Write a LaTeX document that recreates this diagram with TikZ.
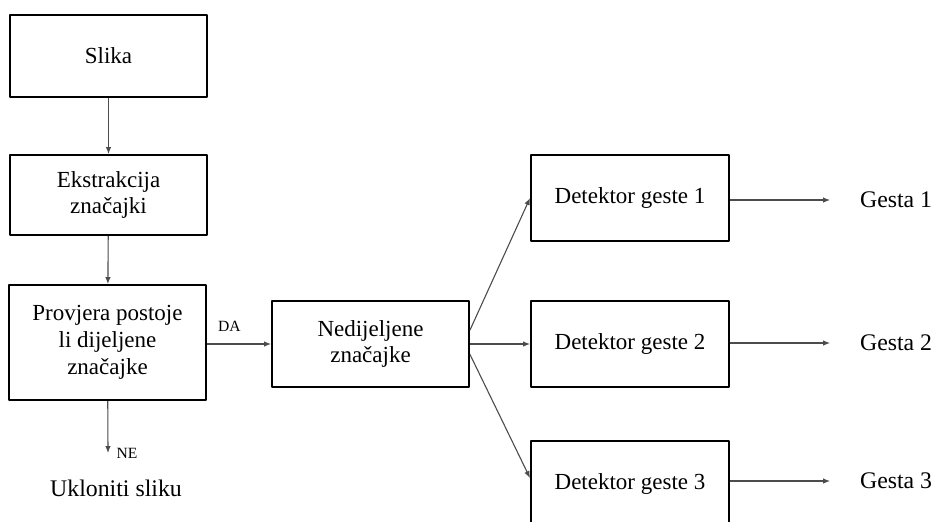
\documentclass[tikz,border=0pt]{standalone}
\usepackage{fontspec}
\setmainfont{Liberation Serif}
\usetikzlibrary{arrows.meta}
\begin{document}
\begin{tikzpicture}[x=0.5pt, y=-0.5pt, line join=round, >={Latex[length=3.5pt,width=2.8pt]},
	kutija/.style = {draw, line width=1pt, align=center, font=\fontsize{11.5}{13}\selectfont, minimum width=98.5pt, minimum height=42pt, inner sep=2pt},
	veza/.style = {->, draw=black!70, line width=0.55pt},
	oznaka/.style = {font=\fontsize{11.9}{14}\selectfont},
	mala/.style = {font=\fontsize{7.8}{9}\selectfont, inner sep=1pt}]
			\path[use as bounding box, clip] (0,0) rectangle (936,521);
			% lijevi stupac
			\node[kutija, minimum height=41pt] (slika) at (108.5,56) {Slika};
			\node[kutija, minimum height=40pt] (ekstr) at (108.5,195) {Ekstrakcija\\značajki};
			\node[kutija, minimum width=98.5pt, minimum height=57.5pt, font=\fontsize{11.5}{13.6}\selectfont] (provjera) at (107.5,342.5) {Provjera postoje\\li dijeljene\\značajke};
			\node[kutija, minimum height=43pt] (nedij) at (370.5,344) {Nedijeljene\\značajke};
			\coordinate (ne) at (108,453);
			\node[oznaka] (ukloni) at (116,488) {Ukloniti sliku};
			% detektori
			\node[kutija, minimum width=99pt, minimum height=43pt] (det1) at (630,198) {Detektor geste 1};
			\node[kutija, minimum width=99pt, minimum height=43pt] (det2) at (630,344) {Detektor geste 2};
			\node[kutija, minimum width=99pt, minimum height=43pt] (det3) at (630,484) {Detektor geste 3};
			\node[oznaka, anchor=west] (g1) at (853,200) {Gesta 1};
			\node[oznaka, anchor=west] (g2) at (853,343) {Gesta 2};
			\node[oznaka, anchor=west] (g3) at (853,481) {Gesta 3};
			% veze
			\draw[veza] (slika) -- (ekstr);
			\draw[veza] (ekstr) -- (provjera);
			\draw[veza] (provjera.east |- nedij.west) -- (nedij.west) node[mala, pos=0.35, above=5pt] {DA};
			\draw[veza] (provjera) -- (ne) node[mala, right=3pt] {NE};
			\draw[veza] (nedij.8) -- (det1.west);
			\draw[veza] (nedij) -- (det2);
			\draw[veza] (nedij.-6) -- ([yshift=3pt]det3.west);
			\foreach \i in {1,2,3}
				\draw[veza, shorten >=11.5pt] (det\i.east |- g\i.west) -- (g\i.west);
\end{tikzpicture}
\end{document}
